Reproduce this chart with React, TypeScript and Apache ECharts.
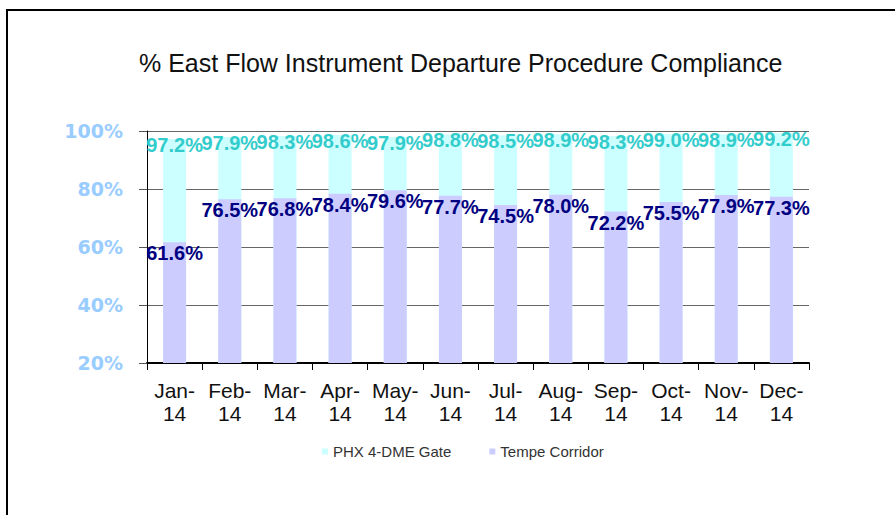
import React, { useEffect, useRef } from "react";
import * as echarts from "echarts";

const months = ["Jan-\n14", "Feb-\n14", "Mar-\n14", "Apr-\n14", "May-\n14", "Jun-\n14", "Jul-\n14", "Aug-\n14", "Sep-\n14", "Oct-\n14", "Nov-\n14", "Dec-\n14"];
const phxGate = [97.2, 97.9, 98.3, 98.6, 97.9, 98.8, 98.5, 98.9, 98.3, 99.0, 98.9, 99.2];
const tempeCorridor = [61.6, 76.5, 76.8, 78.4, 79.6, 77.7, 74.5, 78.0, 72.2, 75.5, 77.9, 77.3];
const seriesNames = ["PHX 4-DME Gate", "Tempe Corridor"];
const titleText = "% East Flow Instrument Departure Procedure Compliance";

export default function App() {
  const ref = useRef<HTMLDivElement>(null);
  useEffect(() => {
    if (!ref.current) return;
    const chart = echarts.init(ref.current, null, { renderer: "svg" });
    chart.setOption({
      animation: false,
      backgroundColor: "#ffffff",
      title: {
        text: titleText,
        left: 134,
        top: 45,
        textStyle: { fontFamily: "Liberation Sans", fontSize: 25, fontWeight: "normal", color: "#111111" },
      },
      legend: {
        data: seriesNames,
        left: 317,
        top: 439,
        icon: "rect",
        itemWidth: 6,
        itemHeight: 6,
        itemGap: 38,
        textStyle: { fontFamily: "Liberation Sans", fontSize: 15, color: "#333333" },
      },
      grid: { left: 147, right: 86, top: 131, bottom: 152, containLabel: false },
      xAxis: {
        type: "category",
        data: months,
        axisLine: { lineStyle: { color: "#000000", width: 2 } },
        axisTick: { show: true, length: 7, lineStyle: { color: "#000000", width: 1 } },
        axisLabel: {
          fontFamily: "Liberation Sans",
          fontSize: 21,
          lineHeight: 23,
          color: "#111111",
          margin: 16,
          interval: 0,
        },
      },
      yAxis: {
        type: "value",
        min: 20,
        max: 100,
        interval: 20,
        axisLine: { show: true, lineStyle: { color: "#000000", width: 1 } },
        axisTick: { show: true, length: 8, lineStyle: { color: "#555555" } },
        splitLine: { lineStyle: { color: "#666666", width: 1 } },
        axisLabel: {
          formatter: "{value}%",
          fontFamily: "DejaVu Sans",
          fontWeight: "bold",
          fontSize: 19,
          color: "#99ccff",
          margin: 24,
        },
      },
      series: [
        {
          name: seriesNames[0],
          type: "bar",
          data: phxGate,
          barWidth: 23,
          barGap: "-100%",
          itemStyle: { color: "#ccffff" },
          label: {
            show: true,
            position: "insideTop",
            distance: 0,
            offset: [0, -4],
            formatter: (p: any) => p.value.toFixed(1) + "%",
            fontFamily: "Liberation Sans",
            fontWeight: "bold",
            fontSize: 20,
            color: "#33cccc",
          },
        },
        {
          name: seriesNames[1],
          type: "bar",
          data: tempeCorridor,
          barWidth: 23,
          barGap: "-100%",
          itemStyle: { color: "#ccccff" },
          label: {
            show: true,
            position: "insideTop",
            distance: 1,
            formatter: (p: any) => p.value.toFixed(1) + "%",
            fontFamily: "Liberation Sans",
            fontWeight: "bold",
            fontSize: 20,
            color: "#000080",
          },
        },
      ],
      graphic: [
        { type: "line", shape: { x1: 6, y1: 10, x2: 895, y2: 10 }, style: { stroke: "#000000", lineWidth: 2 } },
        { type: "line", shape: { x1: 7, y1: 9, x2: 7, y2: 515 }, style: { stroke: "#000000", lineWidth: 2 } },
      ],
    });
    return () => chart.dispose();
  }, []);
  return <div ref={ref} style={{ position: "fixed", left: 0, top: 0, width: 895, height: 515 }} />;
}
